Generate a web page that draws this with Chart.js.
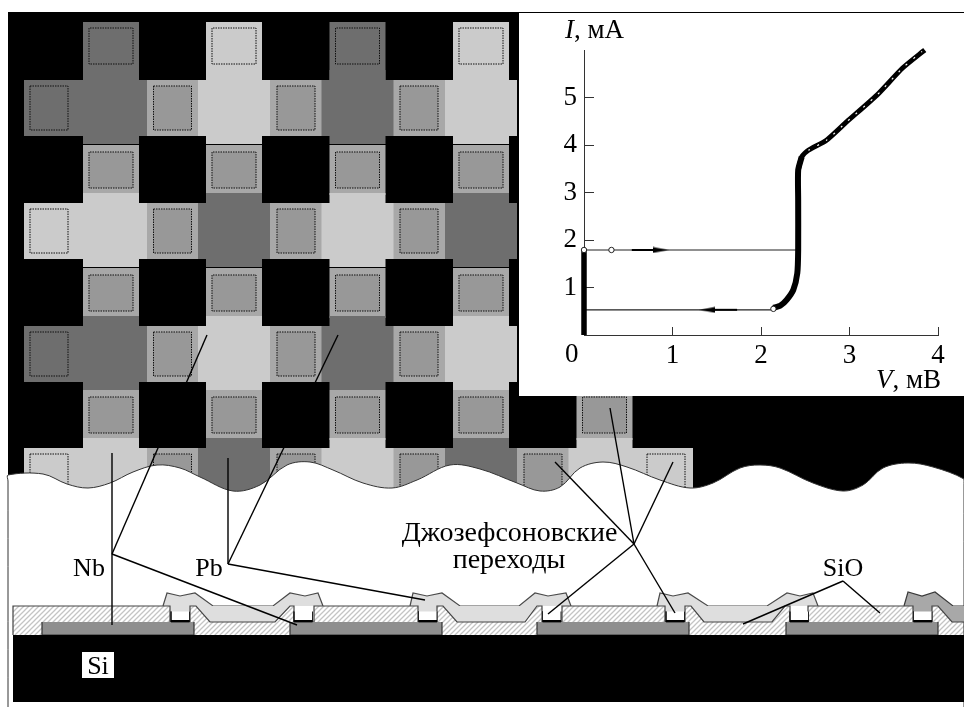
<!DOCTYPE html>
<html>
<head>
    <meta charset="utf-8">
    <title>Джозефсоновские переходы</title>
    <script src="https://cdn.jsdelivr.net/npm/chart.js"></script>
    <style>
        html, body { margin: 0; padding: 0; background: #fff; overflow: hidden; }
        #scheme { position: absolute; left: 0; top: 0; }
        #inset { position: absolute; left: 519px; top: 13px; background: #fff; }
    </style>
</head>
<body>
    <canvas id="scheme" width="964" height="707"></canvas>
    <canvas id="inset" width="445" height="383"></canvas>

    <script>
        // I-V curve of the inset, V in mV, I in mA
        const curveV = [2.14, 2.22, 2.29, 2.365, 2.41, 2.42, 2.42, 2.42, 2.46];
        const curveI = [0.57, 0.62, 0.74, 0.95, 1.30, 1.79, 2.84, 3.47, 3.75];
        const branchV = [2.42, 2.46, 2.535, 2.74, 2.97, 3.31, 3.60, 3.85];
        const branchI = [3.47, 3.75, 3.89, 4.10, 4.49, 5.05, 5.62, 6.00];
        const specksV = [2.535, 2.74, 2.97, 3.31, 3.60, 3.82];
        const specksI = [3.89, 4.10, 4.49, 5.05, 5.62, 5.97];
        const stickV = [0, 0];
        const stickI = [0, 1.79];
        const upperV = [0, 2.42];
        const upperI = [1.79, 1.79];
        const lowerV = [0, 2.14];
        const lowerI = [0.53, 0.53];
        const yTickLabels = ['', '1', '2', '3', '4', '5', ''];
        const xTickLabels = ['', '1', '2', '3', '4'];

        // tile plan: K black, D dark, L light, M middle
        const tileCols = [49, 111, 172.5, 234, 296, 357.5, 419, 481, 543, 604.5, 666];
        const tileRows = [46, 108, 170, 231, 293, 354, 415, 476];
        const tileShades = [
            'KDKLKDKL',
            'DDMLMDML',
            'KMKMKMKM',
            'LLMDMLMD',
            'KMKMKMKM',
            'DDMLMDML',
            'KMKMKMKMKM',
            'LLMDMLMDMLL'
        ];

        // boundary of the cut-away, left to right
        const waveX = [8, 8, 43, 67, 88, 110, 133, 157, 180, 200, 233, 260, 287, 310, 333, 363, 392, 417, 450, 480, 517, 540, 560, 580, 603, 627, 660, 690, 713, 740, 760, 780, 813, 843, 863, 883, 908, 933, 964, 964];
        const waveY = [481, 475, 474, 484, 488, 483, 472, 465, 468, 477, 491, 485, 465, 462, 470, 483, 488, 480, 465, 469, 483, 491, 487, 468, 462, 467, 480, 488, 483, 468, 465, 468, 483, 491, 485, 468, 463, 467, 479, 485];

        // cross-section
        const sioX = [13, 13, 170, 170, 190, 190, 196, 210, 275, 290, 294, 294, 314, 314, 418, 418, 437, 437, 443, 457, 525, 537, 542, 542, 562, 562, 665, 665, 685, 685, 691, 704, 772, 785, 790, 790, 808, 808, 913, 913, 932, 932, 938, 952, 964, 964];
        const sioY = [635, 606, 606, 622, 622, 606, 606, 622, 622, 606, 606, 622, 622, 606, 606, 622, 622, 606, 606, 622, 622, 606, 606, 622, 622, 606, 606, 622, 622, 606, 606, 622, 622, 606, 606, 622, 622, 606, 606, 622, 622, 606, 606, 622, 622, 635];
        const nbStarts = [42, 290, 537, 786];
        const windowStarts = [171, 294, 418.5, 542.5, 666, 790, 913.5];
        const pbChannels = [[170, 294], [418, 542], [665, 790]];
        const pbChannelEnd = [913, 964];
        const pbBumpX = [
            [163, 167, 180, 195, 213, 273, 290, 305, 318, 323],
            [410, 413, 427, 442, 460, 519, 535, 548, 566, 571],
            [657, 660, 673, 688, 708, 767, 787, 800, 813, 818]
        ];
        const pbBumpY = [606, 593, 596, 593, 606, 606, 593, 596, 593, 606];
        const pbEndX = [904, 908, 922, 935, 953, 964];
        const pbEndY = [606, 592, 596, 592, 606, 606];

        // leader lines, each one is [x1, y1, x2, y2]
        const nbLeaders = [[112, 453, 112, 625], [112, 554, 207, 335], [112, 554, 297, 625]];
        const pbLeaders = [[228, 458, 228, 564], [228, 564, 338, 335], [228, 564, 425, 600]];
        const junctionLeaders = [[634, 544, 555, 462], [634, 544, 610, 408], [634, 544, 673, 462], [634, 544, 548, 614], [634, 544, 675, 613]];
        const sioLeaders = [[843, 581, 743, 624], [843, 581, 880, 613]];

        const schemeLabels = [
            { text: 'Nb', x: 89, y: 576 },
            { text: 'Pb', x: 209, y: 576 },
            { text: 'Si', x: 98, y: 674 },
            { text: 'Джозефсоновские', x: 509.5, y: 541 },
            { text: 'переходы', x: 509, y: 568 },
            { text: 'SiO', x: 843, y: 576 }
        ];

        const shadeColors = { K: '#000000', D: '#6e6e6e', L: '#cbcbcb', M: '#a8a8a8' };
        const padColors = { D: '#6e6e6e', L: '#cbcbcb', M: '#989898' };
        const serif = '"Liberation Serif", serif';

        function toPoints(xs, ys) {
            return xs.map((x, i) => ({ x: x, y: ys[i] }));
        }

        function rectPoints(x0, y0, x1, y1) {
            return toPoints([x0, x0, x1, x1], [y0, y1, y1, y0]);
        }

        function hatchPattern() {
            const c = document.createElement('canvas');
            c.width = 5;
            c.height = 5;
            const g = c.getContext('2d');
            g.fillStyle = '#ffffff';
            g.fillRect(0, 0, 5, 5);
            g.strokeStyle = '#c4c4c4';
            g.lineWidth = 1.3;
            g.beginPath();
            g.moveTo(-1, 6);
            g.lineTo(6, -1);
            g.moveTo(-1, 1);
            g.lineTo(1, -1);
            g.moveTo(4, 6);
            g.lineTo(6, 4);
            g.stroke();
            return g.createPattern(c, 'repeat');
        }

        function arrowHead(toRight) {
            const c = document.createElement('canvas');
            c.width = 16;
            c.height = 7;
            const g = c.getContext('2d');
            g.fillStyle = '#000000';
            g.beginPath();
            if (toRight) {
                g.moveTo(0, 0.5);
                g.lineTo(16, 3.5);
                g.lineTo(0, 6.5);
            } else {
                g.moveTo(16, 0.5);
                g.lineTo(0, 3.5);
                g.lineTo(16, 6.5);
            }
            g.fill();
            return c;
        }

        // scheme datasets are painted in the order they are added
        const schemeSets = [];

        function addShape(data, color, border, width, tension) {
            schemeSets.push({
                data: data,
                showLine: true,
                fill: color ? 'shape' : false,
                backgroundColor: color || 'transparent',
                borderColor: border || 'transparent',
                borderWidth: border ? (width || 1) : 0,
                tension: tension || 0,
                pointRadius: 0,
                order: -schemeSets.length
            });
        }

        function addDotted(x0, y0, x1, y1) {
            schemeSets.push({
                data: toPoints([x0, x0, x1, x1, x0], [y0, y1, y1, y0, y0]),
                showLine: true,
                fill: false,
                borderColor: '#111111',
                borderWidth: 1,
                borderDash: [1.5, 1],
                pointRadius: 0,
                order: -schemeSets.length
            });
        }

        function addLeaders(list) {
            list.forEach(l => {
                schemeSets.push({
                    data: toPoints([l[0], l[2]], [l[1], l[3]]),
                    showLine: true,
                    fill: false,
                    borderColor: '#000000',
                    borderWidth: 1.4,
                    pointRadius: 0,
                    order: -schemeSets.length
                });
            });
        }

        addShape(rectPoints(8, 12, 964, 707), '#000000');

        // pads first, then the crosses that lie on top of them
        tileShades.forEach((row, r) => {
            row.split('').forEach((shade, c) => {
                if (shade === 'K') return;
                const cx = tileCols[c];
                const cy = tileRows[r];
                if (r % 2 === 0) {
                    const bottom = r === 0 ? cy + 36 : cy + 25;
                    const top = r === 0 ? cy - 24 : cy - 25;
                    addShape(rectPoints(cx - 28, top, cx + 28, bottom), shadeColors[shade]);
                } else if (c % 2 === 0) {
                    const x0 = c === 0 ? cx - 25 : cx - 27;
                    const x1 = c === 0 ? cx + 34 : cx + 27;
                    addShape(rectPoints(x0, cy - 28, x1, cy + 28), shadeColors[shade]);
                }
            });
        });
        tileShades.forEach((row, r) => {
            if (r % 2 === 0) return;
            row.split('').forEach((shade, c) => {
                if (c % 2 === 0) return;
                const cx = tileCols[c];
                const cy = tileRows[r];
                addShape(rectPoints(cx - 36, cy - 28, cx + 36, cy + 28), shadeColors[shade]);
                addShape(rectPoints(cx - 28, cy - 38, cx + 28, cy + 36), shadeColors[shade]);
            });
        });
        tileShades.forEach((row, r) => {
            row.split('').forEach((shade, c) => {
                if (shade === 'K') return;
                const cx = tileCols[c];
                const cy = tileRows[r];
                if (r % 2 === 0) {
                    addShape(rectPoints(cx - 22, cy - 18, cx + 22, cy + 18), padColors[shade]);
                    addDotted(cx - 22, cy - 18, cx + 22, cy + 18);
                } else if (c % 2 === 0) {
                    addShape(rectPoints(cx - 19, cy - 22, cx + 19, cy + 22), padColors[shade]);
                    addDotted(cx - 19, cy - 22, cx + 19, cy + 22);
                }
            });
        });

        // white cut-away with the wavy edge, its sides are the frame line
        addShape(toPoints([8].concat(waveX, [964]), [707].concat(waveY, [707])), '#ffffff', '#333333', 1, 0.35);

        // cross-section
        pbBumpX.forEach(xs => addShape(toPoints(xs, pbBumpY), '#dedede', '#4a4a4a', 1.2));
        addShape(toPoints(pbEndX, pbEndY), '#a8a8a8', '#3a3a3a', 1.2);
        pbChannels.forEach(ch => addShape(rectPoints(ch[0], 606, ch[1], 623), '#dedede'));
        addShape(rectPoints(pbChannelEnd[0], 606, pbChannelEnd[1], 623), '#a8a8a8');
        addShape(toPoints(sioX, sioY), hatchPattern(), '#444444', 1.2);
        nbStarts.forEach(x => addShape(rectPoints(x, 622, x + 152, 635), '#8f8f8f', '#333333', 1.2));
        windowStarts.forEach(x => {
            addShape(rectPoints(x, 611.5, x + 18.5, 622), '#ffffff', '#222222', 1);
            addShape(rectPoints(x, 620, x + 18.5, 622), '#000000');
        });
        addShape(rectPoints(13, 635, 964, 702), '#000000');
        addShape(rectPoints(82, 652, 114, 678), '#ffffff');

        addLeaders(nbLeaders);
        addLeaders(pbLeaders);
        addLeaders(junctionLeaders);
        addLeaders(sioLeaders);

        const schemeText = {
            id: 'schemeText',
            afterDatasetsDraw(chart) {
                const ctx = chart.ctx;
                ctx.save();
                ctx.fillStyle = '#000000';
                ctx.textAlign = 'center';
                ctx.textBaseline = 'alphabetic';
                schemeLabels.forEach(l => {
                    ctx.font = (/[а-я]/i.test(l.text) ? '28px ' : '26px ') + serif;
                    ctx.fillText(l.text, chart.scales.x.getPixelForValue(l.x), chart.scales.y.getPixelForValue(l.y));
                });
                ctx.restore();
            }
        };

        new Chart(document.getElementById('scheme').getContext('2d'), {
            type: 'scatter',
            data: { datasets: schemeSets },
            options: {
                responsive: false,
                animation: false,
                events: [],
                layout: { padding: 0 },
                plugins: { legend: { display: false }, tooltip: { enabled: false } },
                scales: {
                    x: { type: 'linear', min: 0, max: 964, display: false },
                    y: { type: 'linear', min: 0, max: 707, reverse: true, display: false }
                }
            },
            plugins: [schemeText]
        });

        const insetText = {
            id: 'insetText',
            afterDatasetsDraw(chart) {
                const ctx = chart.ctx;
                const x = chart.scales.x;
                const y = chart.scales.y;
                ctx.save();
                ctx.fillStyle = '#000000';
                ctx.textBaseline = 'alphabetic';
                ctx.textAlign = 'left';
                ctx.font = '27px ' + serif;
                ctx.fillText('0', x.getPixelForValue(0) - 19, y.getPixelForValue(0) + 27);
                function axisName(letter, rest, left, base) {
                    ctx.font = 'italic 27px ' + serif;
                    ctx.fillText(letter, left, base);
                    const w = ctx.measureText(letter).width;
                    ctx.font = '27px ' + serif;
                    ctx.fillText(rest, left + w, base);
                }
                axisName('I', ', мА', x.getPixelForValue(0) - 19, y.getPixelForValue(6) - 12);
                axisName('V', ', мВ', x.getPixelForValue(4) - 62, y.getPixelForValue(0) + 53);
                ctx.restore();
            }
        };

        const lineStyle = { showLine: true, pointRadius: 0, fill: false, clip: false };

        new Chart(document.getElementById('inset').getContext('2d'), {
            type: 'scatter',
            data: {
                datasets: [
                    { data: [{ x: 0, y: 1.79 }, { x: 0.31, y: 1.79 }, { x: 2.14, y: 0.55 }], showLine: false, pointRadius: 2.7, pointBackgroundColor: '#ffffff', pointBorderColor: '#222222', pointBorderWidth: 1, clip: false },
                    { data: [{ x: 0.865, y: 1.79 }], showLine: false, pointStyle: arrowHead(true), clip: false },
                    { data: [{ x: 1.395, y: 0.53 }], showLine: false, pointStyle: arrowHead(false), clip: false },
                    { ...lineStyle, data: toPoints(specksV, specksI), borderColor: '#ffffff', borderWidth: 1.2, borderDash: [2, 8], tension: 0.2 },
                    { ...lineStyle, data: toPoints(curveV, curveI), borderColor: '#000000', borderWidth: 6, borderJoinStyle: 'round', tension: 0.2 },
                    { ...lineStyle, data: toPoints(branchV, branchI), borderColor: '#000000', borderWidth: 5, borderJoinStyle: 'round', tension: 0.2 },
                    { ...lineStyle, data: toPoints(stickV, stickI), borderColor: '#000000', borderWidth: 5.5 },
                    { ...lineStyle, data: toPoints([0.54, 0.78], [1.79, 1.79]), borderColor: '#000000', borderWidth: 2 },
                    { ...lineStyle, data: toPoints([1.48, 1.73], [0.53, 0.53]), borderColor: '#000000', borderWidth: 2 },
                    { ...lineStyle, data: toPoints(upperV, upperI), borderColor: '#222222', borderWidth: 1.2 },
                    { ...lineStyle, data: toPoints(lowerV, lowerI), borderColor: '#222222', borderWidth: 1.2 }
                ]
            },
            options: {
                responsive: false,
                animation: false,
                events: [],
                layout: { padding: { top: 37, right: 26, left: 0, bottom: 0 } },
                plugins: { legend: { display: false }, tooltip: { enabled: false } },
                scales: {
                    x: {
                        type: 'linear',
                        min: 0,
                        max: 4,
                        afterFit: s => { s.height = 61; },
                        border: { color: '#333333', width: 1 },
                        grid: { drawOnChartArea: false, tickLength: -8, tickColor: '#333333' },
                        ticks: {
                            stepSize: 1,
                            padding: 13,
                            color: '#000000',
                            maxRotation: 0,
                            font: { family: serif, size: 27 },
                            callback: (v) => xTickLabels[v]
                        }
                    },
                    y: {
                        type: 'linear',
                        min: 0,
                        max: 6,
                        afterFit: s => { s.width = 65; },
                        border: { color: '#333333', width: 1 },
                        grid: {
                            drawOnChartArea: false,
                            tickLength: -10,
                            tickColor: c => (c.tick && c.tick.value === 6) ? 'transparent' : '#333333'
                        },
                        ticks: {
                            stepSize: 1,
                            padding: 17,
                            color: '#000000',
                            font: { family: serif, size: 27 },
                            callback: (v) => yTickLabels[v]
                        }
                    }
                }
            },
            plugins: [insetText]
        });
    </script>
</body>
</html>
